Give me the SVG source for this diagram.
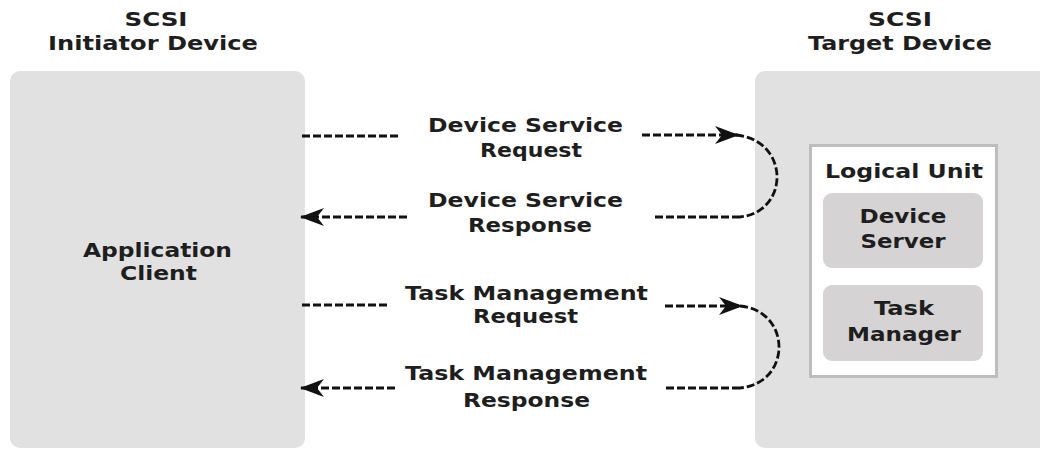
<svg xmlns="http://www.w3.org/2000/svg" width="1040" height="450" viewBox="0 0 1040 450">
  <style>
    .lbl { font-family: "DejaVu Sans", Verdana, sans-serif; font-weight: bold; font-size: 20px; fill: #1e1e1e; text-anchor: middle; }
    .device { fill: #e1e1e1; }
    .unit { fill: #ffffff; stroke: #bdbdbd; stroke-width: 3; }
    .comp { fill: #d5d3d3; }
    .flow { fill: none; stroke: #111111; stroke-width: 2.8; stroke-dasharray: 8 3; }
  </style>
  <defs>
    <marker id="arrow" viewBox="0 0 24 18" refX="23" refY="9" markerWidth="24" markerHeight="18" markerUnits="userSpaceOnUse" orient="auto">
      <path d="M24,9 L0,0 L7,9 L0,18 Z" fill="#111111"/>
    </marker>
  </defs>

  <rect width="1040" height="450" fill="#ffffff"/>

  <!-- initiator side -->
  <g id="initiator-title">
    <text class="lbl" x="156" y="26" textLength="63" lengthAdjust="spacingAndGlyphs">SCSI</text>
    <text class="lbl" x="153" y="50" textLength="210" lengthAdjust="spacingAndGlyphs">Initiator Device</text>
  </g>
  <g id="application-client">
    <rect class="device" x="10" y="71" width="295" height="377" rx="10"/>
    <text class="lbl" x="157.5" y="257" textLength="149" lengthAdjust="spacingAndGlyphs">Application</text>
    <text class="lbl" x="158.5" y="280" textLength="77" lengthAdjust="spacingAndGlyphs">Client</text>
  </g>

  <!-- target side -->
  <g id="target-title">
    <text class="lbl" x="900" y="26" textLength="64" lengthAdjust="spacingAndGlyphs">SCSI</text>
    <text class="lbl" x="900" y="50" textLength="184" lengthAdjust="spacingAndGlyphs">Target Device</text>
  </g>
  <g id="target-device">
    <rect class="device" x="755" y="71" width="300" height="377" rx="10"/>
  </g>
  <g id="logical-unit">
    <rect class="unit" x="810.5" y="145.5" width="186" height="231"/>
    <text class="lbl" x="904" y="178" textLength="158" lengthAdjust="spacingAndGlyphs">Logical Unit</text>
  </g>
  <g id="device-server">
    <rect class="comp" x="823" y="193" width="160" height="75" rx="9"/>
    <text class="lbl" x="903" y="223" textLength="87" lengthAdjust="spacingAndGlyphs">Device</text>
    <text class="lbl" x="903" y="248" textLength="85" lengthAdjust="spacingAndGlyphs">Server</text>
  </g>
  <g id="task-manager">
    <rect class="comp" x="823" y="285" width="160" height="76" rx="9"/>
    <text class="lbl" x="904" y="315" textLength="60" lengthAdjust="spacingAndGlyphs">Task</text>
    <text class="lbl" x="904" y="341" textLength="114" lengthAdjust="spacingAndGlyphs">Manager</text>
  </g>

  <!-- message flows -->
  <g id="connectors">
    <!-- device service request / response -->
    <line class="flow" x1="302" y1="136" x2="400" y2="136"/>
    <line class="flow" x1="642" y1="135" x2="738" y2="135" marker-end="url(#arrow)"/>
    <path class="flow" d="M736,135 C790,140 790,212 740,217"/>
    <line class="flow" x1="740" y1="217" x2="652" y2="217"/>
    <line class="flow" x1="407" y1="217" x2="301" y2="217" marker-end="url(#arrow)"/>

    <!-- task management request / response -->
    <line class="flow" x1="302" y1="305" x2="390" y2="305"/>
    <line class="flow" x1="665" y1="306" x2="742" y2="306" marker-end="url(#arrow)"/>
    <path class="flow" d="M740,306 C792,311 792,383 740,388"/>
    <line class="flow" x1="740" y1="388" x2="664" y2="388"/>
    <line class="flow" x1="395" y1="388" x2="301" y2="388" marker-end="url(#arrow)"/>
  </g>

  <!-- flow labels -->
  <g id="device-service-request">
    <text class="lbl" x="525.5" y="132" textLength="195" lengthAdjust="spacingAndGlyphs">Device Service</text>
    <text class="lbl" x="531" y="157" textLength="102" lengthAdjust="spacingAndGlyphs">Request</text>
  </g>
  <g id="device-service-response">
    <text class="lbl" x="525.5" y="207" textLength="195" lengthAdjust="spacingAndGlyphs">Device Service</text>
    <text class="lbl" x="530" y="232" textLength="124" lengthAdjust="spacingAndGlyphs">Response</text>
  </g>
  <g id="task-management-request">
    <text class="lbl" x="526.5" y="300" textLength="243" lengthAdjust="spacingAndGlyphs">Task Management</text>
    <text class="lbl" x="525.5" y="323" textLength="105" lengthAdjust="spacingAndGlyphs">Request</text>
  </g>
  <g id="task-management-response">
    <text class="lbl" x="526" y="380" textLength="242" lengthAdjust="spacingAndGlyphs">Task Management</text>
    <text class="lbl" x="526.5" y="407" textLength="127" lengthAdjust="spacingAndGlyphs">Response</text>
  </g>
</svg>
